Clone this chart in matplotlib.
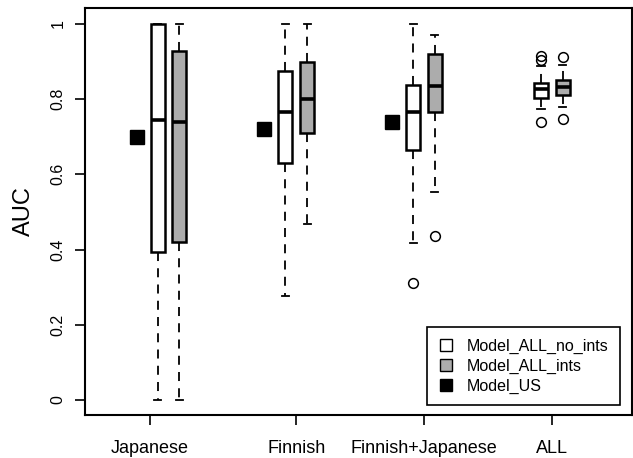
import matplotlib
matplotlib.use("Agg")
import matplotlib.pyplot as plt
from matplotlib.lines import Line2D

plt.rcParams['font.family'] = ['Liberation Sans', 'DejaVu Sans']

groups = ['Japanese', 'Finnish', 'Finnish+Japanese', 'ALL']

# five-number summaries: whislo, q1, med, q3, whishi
no_ints = [
    [0.0, 0.394, 0.745, 1.0, 1.0],
    [0.277, 0.631, 0.765, 0.875, 1.0],
    [0.417, 0.665, 0.767, 0.838, 1.0],
    [0.773, 0.804, 0.826, 0.842, 0.888],
]
no_ints_fliers = [[], [], [0.312], [0.740, 0.905, 0.915]]

ints = [
    [0.0, 0.421, 0.738, 0.928, 1.0],
    [0.468, 0.711, 0.800, 0.900, 1.0],
    [0.554, 0.767, 0.835, 0.919, 0.970],
    [0.780, 0.811, 0.832, 0.851, 0.892],
]
ints_fliers = [[], [], [0.437], [0.747, 0.913]]

model_us = [0.698, 0.720, 0.740]

def make_stats(rows, fliers):
    out = []
    for r, f in zip(rows, fliers):
        out.append(dict(whislo=r[0], q1=r[1], med=r[2], q3=r[3], whishi=r[4], fliers=f))
    return out

pos = [1, 2, 3, 4]
fig = plt.figure(figsize=(6.33, 4.58), dpi=100)
ax = fig.add_axes([0.134, 0.094, 0.864, 0.889])

common = dict(widths=0.11, patch_artist=True, showfliers=True,
              whiskerprops=dict(color='black', linestyle=(0, (5, 4)), linewidth=1.3),
              capprops=dict(color='black', linewidth=1.3),
              medianprops=dict(color='black', linewidth=2.6),
              flierprops=dict(marker='o', markerfacecolor='none', markeredgecolor='black',
                              markersize=7, markeredgewidth=1.1))

ax.bxp(make_stats(no_ints, no_ints_fliers), positions=pos,
       boxprops=dict(facecolor='white', edgecolor='black', linewidth=1.8),
       capwidths=0.055, **common)
ax.bxp(make_stats(ints, ints_fliers), positions=[p + 0.17 for p in pos],
       boxprops=dict(facecolor='#acacac', edgecolor='black', linewidth=1.8),
       capwidths=0.055, **common)

ax.plot([p - 0.165 for p in pos[:3]], model_us, 's', color='black', markersize=10)

ax.set_xlim(0.43, 4.71)
ax.set_ylim(-0.04, 1.043)
ax.set_xticks([0.94, 2.086, 3.086, 4.086])
ax.set_xticklabels(groups, fontsize=13)
ax.set_yticks([0, 0.2, 0.4, 0.6, 0.8, 1.0])
ax.set_yticklabels(['0', '0.2', '0.4', '0.6', '0.8', '1'], rotation=90, va='center', fontsize=11.5)
ax.tick_params(axis='x', length=7, pad=11, width=1.2)
ax.tick_params(axis='y', length=7, pad=7, width=1.2)
ax.set_ylabel('AUC', fontsize=17, labelpad=11)
for s in ax.spines.values():
    s.set_linewidth(1.5)

handles = [
    Line2D([], [], marker='s', linestyle='none', markersize=9, markerfacecolor='white', markeredgecolor='black'),
    Line2D([], [], marker='s', linestyle='none', markersize=9, markerfacecolor='#acacac', markeredgecolor='black'),
    Line2D([], [], marker='s', linestyle='none', markersize=9, markerfacecolor='black', markeredgecolor='black'),
]
leg = ax.legend(handles, ['Model_ALL_no_ints', 'Model_ALL_ints', 'Model_US'],
                loc='lower right', bbox_to_anchor=(0.978, 0.025), borderaxespad=0,
                fontsize=11.5, fancybox=False, edgecolor='black', framealpha=1,
                handlelength=1.0, handletextpad=0.8, labelspacing=0.3, borderpad=0.7)
leg.get_frame().set_linewidth(1.2)

fig.savefig('out.png', dpi=100)
